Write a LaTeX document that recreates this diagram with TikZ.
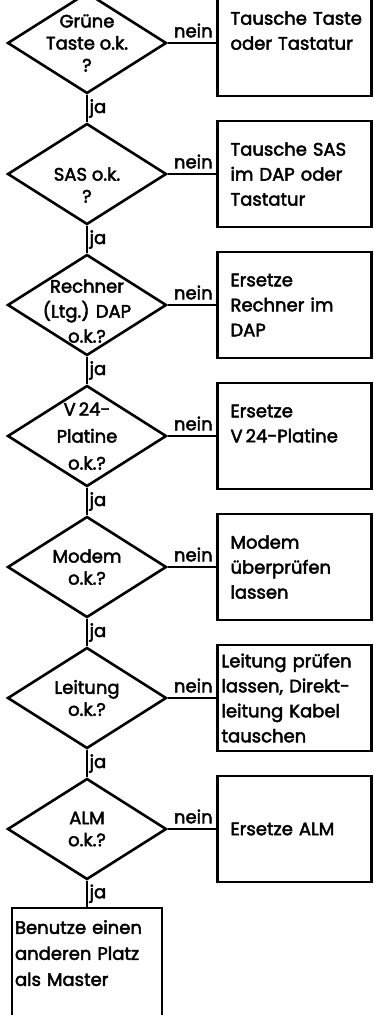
\documentclass[tikz,border=0pt]{standalone}
\usepackage{fontspec}
\setmainfont[UprightFeatures={FakeBold=2.5}]{Poppins}
\usetikzlibrary{shapes.geometric}
\tikzset{
    decision/.style={diamond, minimum width=159pt, minimum height=101pt, inner sep=0pt, draw=black, line width=2.6pt},
    qtext/.style={align=center, font=\fontsize{18}{22}\selectfont},
    process/.style={rectangle, minimum width=154pt, minimum height=106pt, text width=128pt, inner xsep=13pt, align=left, draw=black, line width=2.6pt, font=\fontsize{18}{25}\selectfont},
    final/.style={rectangle, minimum height=142pt, text width=144pt, inner xsep=3pt, align=left, draw=black, line width=2.6pt, font=\fontsize{18}{26}\selectfont},
    link/.style={line width=1.1pt},
    nein/.style={pos=1, anchor=south east, inner xsep=3pt, inner ysep=5pt, font=\fontsize{18}{18}\selectfont},
    ja/.style={midway, anchor=west, inner sep=2pt, font=\fontsize{18}{18}\selectfont}
}

\begin{document}
\begin{tikzpicture}[node distance=131pt]
    \useasboundingbox (-87pt,43pt) rectangle (286pt,-972pt);

    % Pruefschritte
    \node (d1) [decision, label={[qtext]center:Grüne\\Taste o.k.\\?}] {};
    \node (d2) [decision, below of=d1, label={[qtext, yshift=-11pt]center:SAS o.k.\\?}] {};
    \node (d3) [decision, below of=d2, label={[qtext, yshift=-6pt, font=\fontsize{18}{25}\selectfont]center:Rechner\\(Ltg.) DAP\\o.k.?}] {};
    \node (d4) [decision, below of=d3, label={[qtext, font=\fontsize{18}{27}\selectfont]center:V\,24-\\Platine\\o.k.?}] {};
    \node (d5) [decision, below of=d4, label={[qtext]center:Modem\\o.k.?}] {};
    \node (d6) [decision, below of=d5, label={[qtext]center:Leitung\\o.k.?}] {};
    \node (d7) [decision, below of=d6, label={[qtext]center:ALM\\o.k.?}] {};
    \node (master) [final, below of=d7, yshift=-19pt] {Benutze~einen\\anderen~Platz\\als Master\\~\\~};

    % Massnahmen
    \node (p1) [process, right of=d1, xshift=76.5pt] {Tausche~Taste\\oder~Tastatur\\~};
    \node (p2) [process, right of=d2, xshift=76.5pt] {Tausche~SAS\\im DAP oder\\Tastatur};
    \node (p3) [process, right of=d3, xshift=76.5pt] {Ersetze\\Rechner~im\\DAP};
    \node (p4) [process, right of=d4, xshift=76.5pt] {Ersetze\\V\,24-Platine\\~};
    \node (p5) [process, right of=d5, xshift=76.5pt] {Modem\\überprüfen\\lassen};
    \node (p6) [process, right of=d6, xshift=76.5pt, text width=146pt, inner xsep=4pt] {Leitung~prüfen\\lassen,~Direkt-\\leitung~Kabel\\tauschen};
    \node (p7) [process, right of=d7, xshift=76.5pt] {Ersetze~ALM};

    \draw [link] (d1) -- node[nein] {nein} (p1);
    \draw [link] (d2) -- node[nein] {nein} (p2);
    \draw [link] (d3) -- node[nein] {nein} (p3);
    \draw [link] (d4) -- node[nein] {nein} (p4);
    \draw [link] (d5) -- node[nein] {nein} (p5);
    \draw [link] (d6) -- node[nein] {nein} (p6);
    \draw [link] (d7) -- node[nein] {nein} (p7);

    \draw [link] (d1) -- node[ja] {ja} (d2);
    \draw [link] (d2) -- node[ja] {ja} (d3);
    \draw [link] (d3) -- node[ja] {ja} (d4);
    \draw [link] (d4) -- node[ja] {ja} (d5);
    \draw [link] (d5) -- node[ja] {ja} (d6);
    \draw [link] (d6) -- node[ja] {ja} (d7);
    \draw [link] (d7) -- node[ja] {ja} (master);

\end{tikzpicture}
\end{document}
